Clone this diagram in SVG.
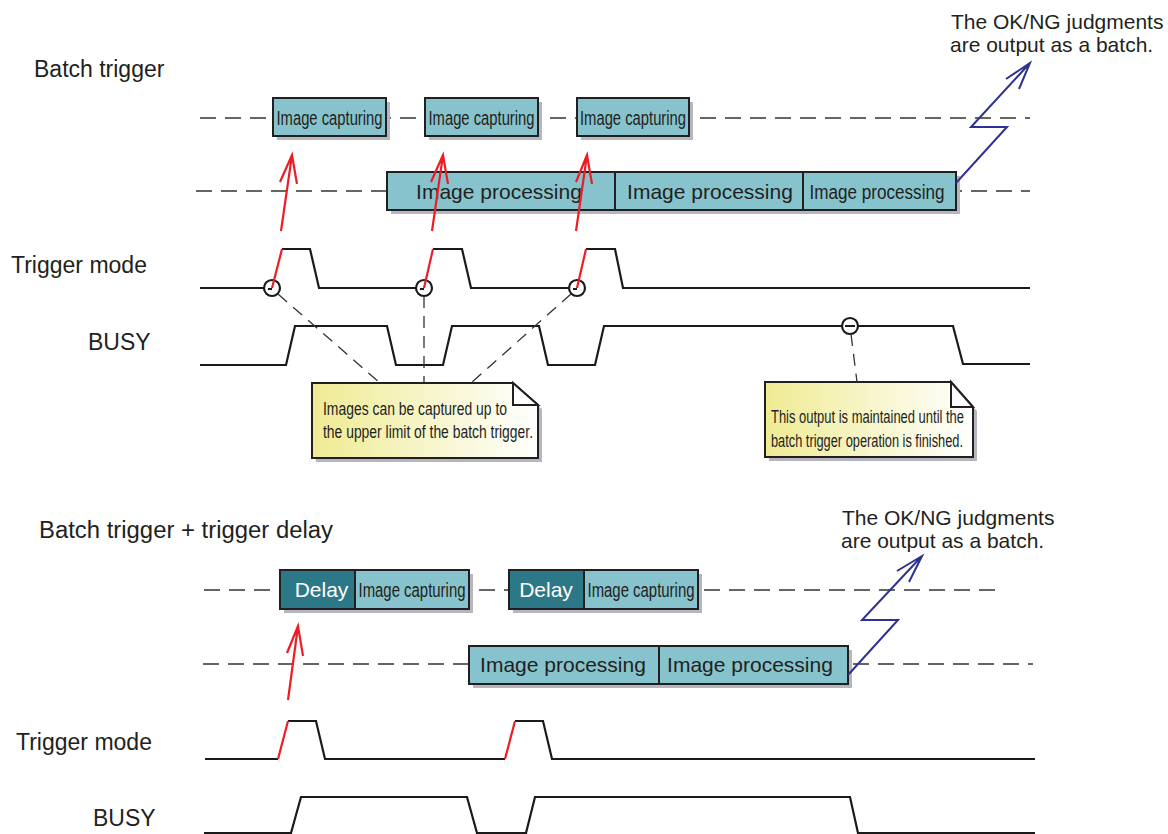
<svg xmlns="http://www.w3.org/2000/svg" width="1168" height="834" viewBox="0 0 1168 834">
<defs>
<linearGradient id="noteGrad" x1="0" y1="0" x2="1" y2="0">
<stop offset="0" stop-color="#efeb93"/>
<stop offset="1" stop-color="#ffffff"/>
</linearGradient>
<style>
.box{fill:#86c3cd;stroke:#231f20;stroke-width:2}
.dbox{fill:#2d7886;stroke:#231f20;stroke-width:2}
.shadow{fill:#b6b6be}
.sig{fill:none;stroke:#1a1a1a;stroke-width:2.2}
.dash{fill:none;stroke:#333;stroke-width:1.4;stroke-dasharray:16 9}
.adash{fill:none;stroke:#333;stroke-width:1.3;stroke-dasharray:12 8}
.red{fill:none;stroke:#ee1c25;stroke-width:2.2}
.blue{fill:none;stroke:#2e3192;stroke-width:2}
.note{fill:url(#noteGrad);stroke:#231f20;stroke-width:2}
.fold{fill:#ffffff;stroke:#231f20;stroke-width:2;stroke-linejoin:miter}
.circ{fill:#ffffff;stroke:#1a1a1a;stroke-width:2.2}
.lbl{font-family:"Liberation Sans",Arial,sans-serif;font-size:23px;fill:#231f20}
.txt{font-family:"Liberation Sans",Arial,sans-serif;font-size:21px;fill:#231f20}
.nar{font-family:"Liberation Sans Narrow","Liberation Sans",Arial,sans-serif;font-size:20px;fill:#231f20}
.ntx{font-family:"Liberation Sans Narrow","Liberation Sans",Arial,sans-serif;font-size:17.5px;fill:#231f20}
.wht{font-family:"Liberation Sans",Arial,sans-serif;font-size:21px;fill:#ffffff}
</style>
</defs>
<rect width="1168" height="834" fill="#ffffff"/>

<!-- timeline dashed lines -->
<g id="timelines">
<line class="dash" x1="200" y1="118" x2="1030" y2="118"/>
<line class="dash" x1="196" y1="191" x2="1030" y2="191"/>
<line class="dash" x1="204" y1="590" x2="1000" y2="590"/>
<line class="dash" x1="203" y1="664" x2="1033" y2="664"/>
</g>

<!-- labels -->
<g id="labels">
<text class="lbl" x="34" y="77">Batch trigger</text>
<text class="lbl" x="11" y="273">Trigger mode</text>
<text class="lbl" x="88" y="350">BUSY</text>
<text class="lbl" x="39" y="538" textLength="294" lengthAdjust="spacingAndGlyphs">Batch trigger + trigger delay</text>
<text class="lbl" x="16" y="750">Trigger mode</text>
<text class="lbl" x="93" y="826">BUSY</text>
<text class="txt" x="951" y="29">The OK/NG judgments</text>
<text class="txt" x="950" y="52">are output as a batch.</text>
<text class="txt" x="842" y="525">The OK/NG judgments</text>
<text class="txt" x="841" y="548">are output as a batch.</text>
</g>

<!-- top capture boxes -->
<g id="cap1">
<rect class="shadow" x="277" y="102" width="113" height="38"/>
<rect class="box" x="273" y="98" width="113" height="38"/>
<text class="nar" x="329.5" y="125" text-anchor="middle" textLength="106" lengthAdjust="spacingAndGlyphs">Image capturing</text>
</g>
<g id="cap2">
<rect class="shadow" x="429" y="102" width="113" height="38"/>
<rect class="box" x="425" y="98" width="113" height="38"/>
<text class="nar" x="481.5" y="125" text-anchor="middle" textLength="106" lengthAdjust="spacingAndGlyphs">Image capturing</text>
</g>
<g id="cap3">
<rect class="shadow" x="581" y="102" width="112" height="38"/>
<rect class="box" x="577" y="98" width="112" height="38"/>
<text class="nar" x="633" y="125" text-anchor="middle" textLength="106" lengthAdjust="spacingAndGlyphs">Image capturing</text>
</g>

<!-- top processing boxes -->
<g id="proc-top">
<rect class="shadow" x="391" y="176" width="569" height="38"/>
<rect class="box" x="387" y="172" width="228" height="38"/>
<rect class="box" x="615" y="172" width="188" height="38"/>
<rect class="box" x="803" y="172" width="153" height="38"/>
<text class="txt" x="499" y="199" text-anchor="middle">Image processing</text>
<text class="txt" x="710" y="199" text-anchor="middle">Image processing</text>
<text class="nar" x="877" y="199" text-anchor="middle" textLength="135" lengthAdjust="spacingAndGlyphs">Image processing</text>
</g>

<!-- top trigger mode signal -->
<g id="trig-top">
<path class="sig" d="M200,288 H264"/>
<path class="sig" d="M282,249 H310 L319,288 H416"/>
<path class="sig" d="M433,249 H462 L471,288 H568"/>
<path class="sig" d="M586,249 H615 L623,288 H1030"/>
<circle class="circ" cx="272" cy="288" r="8"/>
<circle class="circ" cx="424" cy="288" r="8"/>
<circle class="circ" cx="577" cy="288" r="8"/>
<path d="M268,289 H272 M420,289 H424 M573,289 H577" stroke="#1a1a1a" stroke-width="2"/>
<path class="red" d="M272,288 L282,249 M424,288 L433,249 M577,288 L586,249"/>
</g>

<!-- top BUSY signal -->
<g id="busy-top">
<path class="sig" d="M200,365 H286 L295,326 H387 L396,365 H443 L452,326 H539 L548,365 H595 L604,326 H842 M858,326 H953 L963,364 H1030"/>
<circle class="circ" cx="850" cy="326" r="8"/>
<path d="M845,326 H855" stroke="#1a1a1a" stroke-width="2"/>
</g>

<!-- note 1 -->
<g id="note1">
<path class="shadow" d="M316,387 H517 L542,409 V462 H316 Z"/>
<path class="note" d="M312,383 H513 L538,405 V458 H312 Z"/>
<path class="fold" d="M513,383 V405 H538 Z"/>
<text class="ntx" x="323" y="415" textLength="184" lengthAdjust="spacingAndGlyphs">Images can be captured up to</text>
<text class="ntx" x="323" y="438" textLength="210" lengthAdjust="spacingAndGlyphs">the upper limit of the batch trigger.</text>
</g>

<!-- note 2 -->
<g id="note2">
<path class="shadow" d="M769,386 H955 L977,411 V461 H769 Z"/>
<path class="note" d="M765,382 H951 L973,407 V457 H765 Z"/>
<path class="fold" d="M951,382 V407 H973 Z"/>
<text class="ntx" x="771" y="423" textLength="193" lengthAdjust="spacingAndGlyphs">This output is maintained until the</text>
<text class="ntx" x="771" y="447" textLength="192" lengthAdjust="spacingAndGlyphs">batch trigger operation is finished.</text>
</g>

<!-- bottom delay + capture boxes -->
<g id="dcap1">
<rect class="shadow" x="284" y="574" width="189" height="39"/>
<rect class="dbox" x="280" y="570" width="75" height="39"/>
<rect class="box" x="355" y="570" width="114" height="39"/>
<text class="wht" x="321.5" y="597" text-anchor="middle">Delay</text>
<text class="nar" x="412" y="597" text-anchor="middle" textLength="107" lengthAdjust="spacingAndGlyphs">Image capturing</text>
</g>
<g id="dcap2">
<rect class="shadow" x="513" y="574" width="189" height="39"/>
<rect class="dbox" x="509" y="570" width="75" height="39"/>
<rect class="box" x="584" y="570" width="114" height="39"/>
<text class="wht" x="546" y="597" text-anchor="middle">Delay</text>
<text class="nar" x="641" y="597" text-anchor="middle" textLength="107" lengthAdjust="spacingAndGlyphs">Image capturing</text>
</g>

<!-- bottom processing boxes -->
<g id="proc-bottom">
<rect class="shadow" x="473" y="650" width="379" height="38"/>
<rect class="box" x="469" y="646" width="190" height="38"/>
<rect class="box" x="659" y="646" width="189" height="38"/>
<text class="txt" x="563" y="672" text-anchor="middle">Image processing</text>
<text class="txt" x="750" y="672" text-anchor="middle">Image processing</text>
</g>

<!-- bottom trigger mode signal -->
<g id="trig-bottom">
<path class="sig" d="M205,759 H278 M288,721 H316 L325,759 H505 M515,721 H543 L552,759 H1035"/>
<path class="red" d="M278,759 L288,721 M505,759 L515,721"/>
</g>

<!-- bottom BUSY signal -->
<g id="busy-bottom">
<path class="sig" d="M204,833 H291 L301,797 H467 L477,833 H526 L535,797 H850 L858,833 H1035"/>
</g>

<!-- connectors -->
<g id="connectors">
<path class="adash" d="M278,294 L380,383"/>
<path class="adash" d="M424,296 V383"/>
<path class="adash" d="M571,294 L471,383"/>
<path class="adash" d="M851,334 L857,382"/>
<path class="red" d="M281,231 L292,155 M280,182 L292,155 L297,184"/>
<path class="red" d="M432,231 L443,155 M431,182 L443,155 L448,184"/>
<path class="red" d="M576,231 L587,155 M576,182 L587,155 L592,184"/>
<path class="red" d="M288,700 L298,626 M287,653 L298,626 L303,656"/>
<path class="blue" d="M956,183 L1007,127 H971 L1030,63 M1006,79 L1030,63 L1019,89"/>
<path class="blue" d="M848,675 L898,620 H862 L922,556 M897,571 L922,556 L909,582"/>
</g>
</svg>
